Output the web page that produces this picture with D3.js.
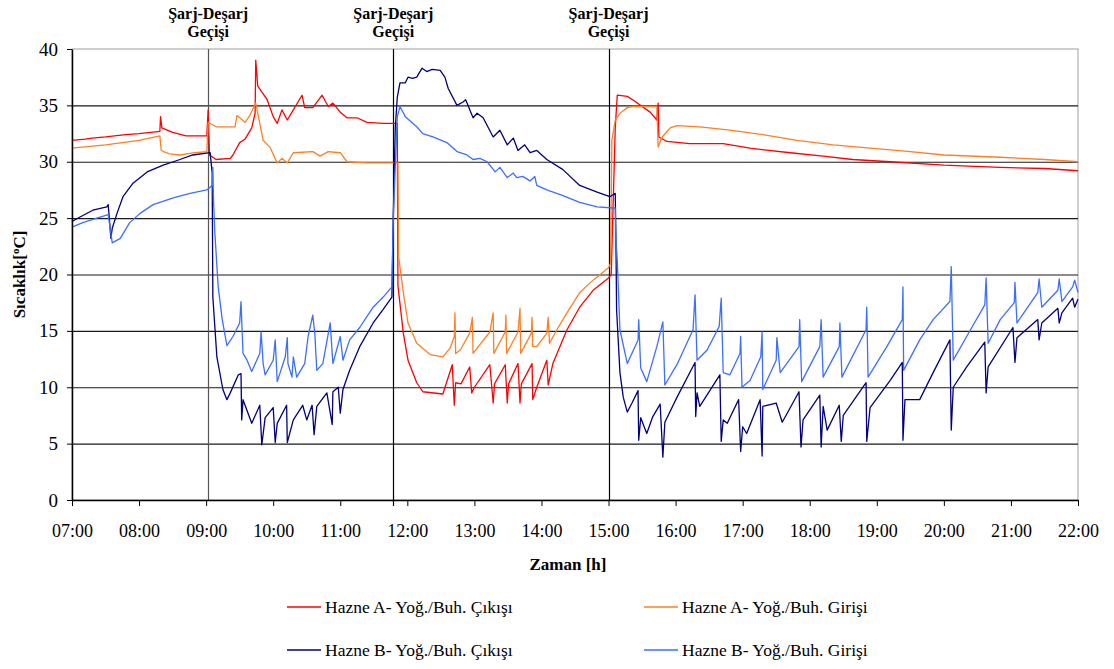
<!DOCTYPE html>
<html>
<head>
<meta charset="utf-8">
<script src="https://cdn.jsdelivr.net/npm/d3@7"></script>
<style>
  body { margin: 0; background: #fff; }
  svg text { font-family: "Liberation Serif", serif; fill: #000; }
</style>
</head>
<body>
<div id="chart"></div>
<script>
// saat (ondalik) ve sicaklik degerleri
const xTickHours = [7, 8, 9, 10, 11, 12, 13, 14, 15, 16, 17, 18, 19, 20, 21, 22];
const xTickLabels = ["07:00", "08:00", "09:00", "10:00", "11:00", "12:00", "13:00", "14:00",
  "15:00", "16:00", "17:00", "18:00", "19:00", "20:00", "21:00", "22:00"];
const yTicks = [0, 5, 10, 15, 20, 25, 30, 35, 40];
const switchHours = [9.03, 11.79, 15.0];
const switchLabel = ["Şarj-Deşarj", "Geçişi"];
const seriesNames = ["Hazne A- Yoğ./Buh. Çıkışı", "Hazne A- Yoğ./Buh. Girişi",
  "Hazne B- Yoğ./Buh. Çıkışı", "Hazne B- Yoğ./Buh. Girişi"];

const hazneAOut = [[7.00,31.9],[7.2,32.0],[7.3,32.1],[7.5,32.2],[7.8,32.4],[8.0,32.5],[8.31,32.7],[8.32,34.0],[8.34,33.0],[8.5,32.6],[8.7,32.3],[9.01,32.3],[9.03,34.6],[9.05,30.6],[9.15,30.2],[9.36,30.3],[9.40,30.6],[9.50,31.7],[9.58,32.0],[9.68,33.0],[9.73,34.3],[9.74,39.0],[9.77,36.7],[9.91,35.5],[10.00,34.0],[10.06,33.4],[10.13,34.6],[10.21,33.7],[10.30,34.6],[10.43,35.9],[10.47,34.8],[10.59,34.8],[10.73,35.9],[10.82,34.9],[10.89,35.2],[11.00,34.4],[11.10,33.9],[11.25,33.9],[11.40,33.5],[11.64,33.4],[11.85,33.4],[11.86,19.0],[11.94,14.8],[12.01,12.4],[12.14,10.4],[12.23,9.6],[12.53,9.4],[12.67,12.0],[12.70,8.4],[12.72,10.4],[12.80,10.3],[12.93,11.8],[12.96,9.5],[13.00,10.0],[13.23,12.0],[13.28,8.6],[13.30,10.3],[13.46,12.0],[13.49,8.6],[13.51,10.3],[13.65,12.1],[13.68,8.6],[13.70,10.3],[13.86,12.1],[13.87,8.9],[13.93,10.0],[14.08,12.4],[14.10,10.2],[14.17,12.1],[14.38,15.1],[14.57,17.1],[14.77,18.6],[15.00,19.7],[15.04,20.0],[15.10,33.0],[15.13,35.9],[15.28,35.8],[15.36,35.5],[15.62,34.4],[15.72,33.7],[15.74,35.2],[15.75,32.2],[15.87,31.8],[16.21,31.6],[16.71,31.6],[17.11,31.2],[17.71,30.8],[18.20,30.5],[18.64,30.2],[19.20,30.0],[20.00,29.7],[20.84,29.5],[21.5,29.4],[22.00,29.2]];

const hazneAIn = [[7.00,31.2],[7.5,31.5],[8.0,31.9],[8.31,32.3],[8.33,31.0],[8.45,30.7],[8.61,30.6],[8.83,30.8],[9.01,30.9],[9.03,33.5],[9.15,33.1],[9.43,33.1],[9.46,34.1],[9.50,33.9],[9.58,33.5],[9.65,34.1],[9.74,35.2],[9.85,31.9],[9.95,31.3],[10.06,29.9],[10.13,30.3],[10.21,29.9],[10.30,30.8],[10.59,30.9],[10.70,30.5],[10.82,30.9],[11.00,30.8],[11.10,30.0],[11.40,29.9],[11.86,29.9],[11.87,21.6],[11.94,18.4],[12.01,15.7],[12.14,13.9],[12.34,12.9],[12.53,12.7],[12.64,13.5],[12.70,14.5],[12.71,16.6],[12.72,13.0],[12.79,13.3],[12.93,14.8],[12.97,16.2],[12.98,13.0],[13.23,14.9],[13.28,16.6],[13.29,13.0],[13.46,14.9],[13.47,16.4],[13.48,13.0],[13.65,14.9],[13.68,17.0],[13.69,13.0],[13.85,14.8],[13.86,16.2],[13.87,13.6],[13.93,13.6],[14.08,14.8],[14.10,16.2],[14.12,13.9],[14.23,15.1],[14.38,16.6],[14.57,18.4],[14.77,19.5],[15.00,20.6],[15.03,21.0],[15.05,31.9],[15.10,33.7],[15.17,34.3],[15.28,34.8],[15.36,34.9],[15.72,34.9],[15.74,31.3],[15.80,32.2],[15.92,33.0],[16.02,33.2],[16.36,33.1],[16.81,32.8],[17.30,32.4],[17.81,31.9],[18.35,31.5],[18.90,31.2],[19.5,30.9],[20.0,30.6],[20.84,30.4],[21.5,30.2],[22.00,30.0]];

const hazneBOut = [[7.00,24.7],[7.12,25.1],[7.31,25.7],[7.52,26.0],[7.54,26.2],[7.58,23.2],[7.60,24.1],[7.67,25.4],[7.76,26.9],[7.91,28.1],[8.12,29.1],[8.36,29.7],[8.61,30.2],[8.80,30.6],[9.06,30.8],[9.09,29.0],[9.10,18.0],[9.16,12.7],[9.25,9.8],[9.31,8.9],[9.36,9.5],[9.48,11.1],[9.52,11.2],[9.53,7.1],[9.55,8.9],[9.68,6.8],[9.80,8.4],[9.83,4.9],[9.88,7.3],[10.00,8.2],[10.03,5.1],[10.06,6.8],[10.20,8.4],[10.21,5.1],[10.30,7.1],[10.44,8.4],[10.50,7.1],[10.58,8.4],[10.61,5.8],[10.65,8.3],[10.80,9.5],[10.88,6.7],[10.89,9.6],[10.97,10.0],[11.00,7.7],[11.04,9.8],[11.14,11.5],[11.29,13.6],[11.49,15.7],[11.64,16.9],[11.77,18.0],[11.79,25.1],[11.82,33.0],[11.85,35.7],[11.89,37.0],[11.97,37.0],[12.01,37.5],[12.08,37.4],[12.14,37.5],[12.22,38.3],[12.29,38.0],[12.37,38.2],[12.49,38.1],[12.56,37.5],[12.61,36.5],[12.74,35.0],[12.83,35.3],[12.87,35.5],[12.98,33.9],[13.04,34.3],[13.13,33.9],[13.28,32.2],[13.38,32.8],[13.49,31.5],[13.58,32.1],[13.65,31.0],[13.75,31.5],[13.83,30.8],[13.93,31.0],[14.08,30.2],[14.32,29.3],[14.57,27.9],[14.83,27.3],[15.02,26.9],[15.10,27.2],[15.11,23.1],[15.12,16.9],[15.17,11.3],[15.22,9.1],[15.28,7.8],[15.35,8.6],[15.44,9.7],[15.45,5.3],[15.48,7.3],[15.57,5.9],[15.66,7.4],[15.77,8.5],[15.81,3.8],[15.84,6.9],[16.02,9.1],[16.29,12.2],[16.30,7.4],[16.32,9.5],[16.36,8.3],[16.66,11.1],[16.68,5.2],[16.71,7.1],[16.77,6.8],[16.94,8.9],[16.97,4.3],[17.00,6.5],[17.06,5.9],[17.26,8.9],[17.29,3.9],[17.30,8.3],[17.50,8.6],[17.59,6.9],[17.84,9.6],[17.87,4.7],[17.90,7.1],[18.15,9.3],[18.17,4.7],[18.20,8.3],[18.26,6.2],[18.44,8.4],[18.47,5.2],[18.50,7.5],[18.84,10.4],[18.85,5.2],[18.90,8.2],[19.20,10.6],[19.38,12.2],[19.39,5.3],[19.42,8.9],[19.64,8.9],[19.84,11.3],[20.09,14.2],[20.11,6.2],[20.14,10.0],[20.34,11.8],[20.61,14.0],[20.63,9.5],[20.66,11.8],[21.03,15.3],[21.06,12.2],[21.09,14.4],[21.40,16.0],[21.42,14.2],[21.46,15.7],[21.70,17.0],[21.72,15.7],[21.76,16.6],[21.92,17.9],[21.95,17.1],[22.00,17.8]];

const hazneBIn = [[7.00,24.2],[7.16,24.6],[7.37,25.0],[7.54,25.3],[7.60,22.8],[7.72,23.2],[7.86,24.6],[8.01,25.4],[8.21,26.2],[8.51,26.8],[8.76,27.2],[9.01,27.5],[9.09,27.9],[9.10,29.5],[9.11,26.6],[9.13,23.7],[9.18,18.9],[9.24,16.0],[9.31,13.7],[9.40,14.5],[9.50,15.7],[9.52,17.6],[9.55,13.0],[9.61,12.4],[9.68,11.4],[9.80,13.0],[9.82,14.9],[9.85,12.1],[9.88,11.1],[10.00,12.4],[10.03,14.2],[10.06,10.5],[10.18,12.7],[10.21,14.4],[10.22,12.1],[10.28,10.9],[10.30,12.7],[10.35,10.9],[10.47,12.1],[10.52,14.5],[10.59,16.4],[10.62,14.8],[10.65,11.5],[10.74,12.1],[10.85,15.7],[10.89,12.1],[11.00,14.5],[11.04,12.4],[11.14,14.2],[11.29,15.3],[11.49,17.1],[11.64,18.0],[11.77,18.9],[11.79,25.0],[11.85,34.0],[11.89,34.9],[11.97,34.0],[12.14,33.1],[12.23,32.5],[12.38,32.2],[12.59,31.7],[12.74,30.9],[12.89,30.6],[12.98,30.2],[13.08,30.3],[13.19,30.0],[13.31,29.1],[13.38,29.5],[13.49,28.6],[13.58,29.0],[13.63,28.6],[13.72,28.7],[13.83,28.3],[13.90,28.7],[13.93,27.9],[14.08,27.5],[14.32,27.0],[14.57,26.4],[14.83,26.0],[15.07,25.9],[15.10,25.9],[15.11,23.1],[15.13,21.3],[15.17,15.1],[15.28,12.1],[15.44,14.2],[15.45,16.0],[15.48,11.7],[15.57,10.5],[15.72,13.6],[15.81,15.8],[15.84,10.2],[16.02,12.0],[16.26,15.1],[16.29,18.2],[16.32,12.4],[16.47,13.3],[16.65,15.4],[16.68,17.9],[16.71,11.3],[16.81,11.1],[16.96,13.0],[16.97,14.5],[16.99,10.0],[17.11,10.6],[17.27,12.7],[17.29,14.9],[17.30,9.8],[17.50,12.4],[17.51,14.4],[17.56,11.3],[17.84,13.6],[17.85,16.0],[17.88,10.5],[18.15,13.6],[18.17,16.0],[18.20,10.9],[18.44,13.6],[18.45,15.7],[18.48,10.9],[18.84,15.1],[18.85,17.1],[18.87,10.9],[19.15,13.6],[19.38,16.0],[19.39,18.9],[19.40,11.5],[19.64,14.2],[19.84,16.0],[20.09,17.6],[20.11,20.7],[20.14,12.4],[20.34,14.5],[20.61,17.3],[20.63,19.7],[20.66,13.9],[20.84,16.0],[21.05,17.5],[21.06,19.3],[21.09,15.7],[21.40,18.4],[21.42,19.6],[21.46,17.1],[21.70,18.6],[21.72,19.6],[21.76,17.6],[21.92,18.9],[21.95,19.5],[22.00,18.4]];

const colors = ["#ff0000", "#ff7f24", "#000080", "#3c6eff"];
const allSeries = [hazneAOut, hazneAIn, hazneBOut, hazneBIn];

const width = 1114;
const height = 669;
const margin = { top: 49, right: 36, bottom: 169, left: 72 };

const svg = d3.select("#chart")
  .append("svg")
  .attr("width", width)
  .attr("height", height);

const x = d3.scaleLinear()
  .domain([7, 22])
  .range([margin.left, width - margin.right]);

const y = d3.scaleLinear()
  .domain([0, 40])
  .range([height - margin.bottom, margin.top]);

// plot alani cercevesi (ust ve sag gri)
svg.append("rect")
  .attr("x", x(7)).attr("y", y(40))
  .attr("width", x(22) - x(7)).attr("height", y(0) - y(40))
  .attr("fill", "none").attr("stroke", "#a0a0a0");

// yatay izgara
svg.append("g")
  .selectAll("line")
  .data(yTicks.filter(d => d > 0 && d < 40))
  .join("line")
  .attr("x1", x(7)).attr("x2", x(22))
  .attr("y1", d => y(d) + 0.5).attr("y2", d => y(d) + 0.5)
  .attr("stroke", "#1a1a1a").attr("stroke-width", 1.2);

// sarj-desarj gecis cizgileri
svg.append("g")
  .selectAll("line")
  .data(switchHours)
  .join("line")
  .attr("x1", d => Math.round(x(d)) + 0.5).attr("x2", d => Math.round(x(d)) + 0.5)
  .attr("y1", y(40)).attr("y2", (d, i) => i === 1 ? y(0) + 6 : y(0))
  .attr("stroke", (d, i) => i === 0 ? "#555" : "#000")
  .attr("stroke-width", 1.2);

// seriler
const line = d3.line()
  .x(d => x(d[0]))
  .y(d => y(d[1]));

svg.append("g")
  .selectAll("path")
  .data(allSeries)
  .join("path")
  .attr("d", line)
  .attr("fill", "none")
  .attr("stroke", (d, i) => colors[i])
  .attr("stroke-width", 1.3)
  .attr("stroke-linejoin", "round");

// eksenler
const xAxis = svg.append("g")
  .attr("transform", `translate(0,${y(0)})`)
  .call(d3.axisBottom(x)
    .tickValues(xTickHours)
    .tickFormat((d, i) => xTickLabels[i])
    .tickSize(6)
    .tickSizeOuter(0)
    .tickPadding(18));
xAxis.select(".domain").attr("stroke", "#000").attr("stroke-width", 1.5);
xAxis.selectAll("text").attr("font-size", 18);

const yAxis = svg.append("g")
  .attr("transform", `translate(${x(7)},0)`)
  .call(d3.axisLeft(y)
    .tickValues(yTicks)
    .tickSize(5)
    .tickSizeOuter(0)
    .tickPadding(9));
yAxis.select(".domain").attr("stroke", "#000").attr("stroke-width", 1.5);
yAxis.selectAll("text").attr("font-size", 19);

// gecis basliklari
switchHours.forEach(h => {
  switchLabel.forEach((t, j) => {
    svg.append("text")
      .attr("x", x(h))
      .attr("y", 19 + j * 18)
      .attr("text-anchor", "middle")
      .attr("font-size", 16)
      .attr("font-weight", "bold")
      .text(t);
  });
});

// eksen basliklari
svg.append("text")
  .attr("x", 568).attr("y", 570)
  .attr("text-anchor", "middle")
  .attr("font-size", 17)
  .attr("font-weight", "bold")
  .text("Zaman [h]");

const yl = svg.append("text")
  .attr("transform", `translate(25,${(y(0) + y(40)) / 2}) rotate(-90)`)
  .attr("text-anchor", "middle")
  .attr("font-size", 17)
  .attr("font-weight", "bold");
yl.append("tspan").text("Sıcaklık[");
yl.append("tspan").attr("dy", -6).attr("font-size", 11).text("o");
yl.append("tspan").attr("dy", 6).text("C]");

// lejant
const legendPos = [[287, 607], [644, 607], [287, 650], [644, 650]];
const legend = svg.append("g")
  .selectAll("g")
  .data(seriesNames)
  .join("g")
  .attr("transform", (d, i) => `translate(${legendPos[i][0]},${legendPos[i][1]})`);

legend.append("line")
  .attr("x1", 0).attr("x2", 34)
  .attr("stroke", (d, i) => colors[i])
  .attr("stroke-width", 1.5);

legend.append("text")
  .attr("x", 38).attr("y", 6)
  .attr("font-size", 17.5)
  .text(d => d);
</script>
</body>
</html>
